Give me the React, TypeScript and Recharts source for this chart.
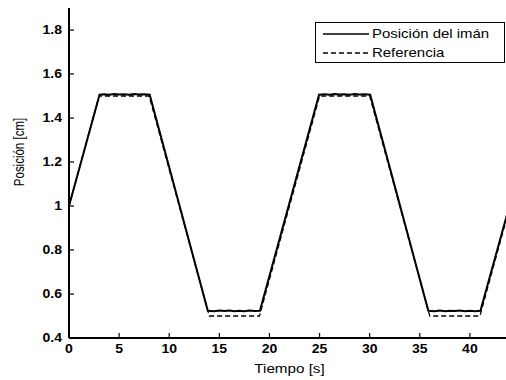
import React from 'react';
import { LineChart, Line, XAxis, YAxis, Legend, Label } from 'recharts';

// reference trajectory (breakpoints of the trapezoid)
const refTime = [0, 3, 8, 14, 19, 25, 30, 36, 41, 44];
const refValue = [1.0, 1.5, 1.5, 0.5, 0.5, 1.5, 1.5, 0.5, 0.5, 1.0];

const posTime = [
  0, 3.05, 3.5, 4, 4.5, 5, 5.5, 6, 6.5, 7, 7.5, 8.05,
  13.85, 14.5, 15, 15.5, 16, 16.5, 17, 17.5, 18, 18.5, 19.05,
  24.95, 25.5, 26, 26.5, 27, 27.5, 28, 28.5, 29, 29.5, 30.05,
  35.85, 36.5, 37, 37.5, 38, 38.5, 39, 39.5, 40, 40.5, 41.05,
  44,
];
const posValue = [
  1.0, 1.506, 1.508, 1.506, 1.509, 1.507, 1.508, 1.506, 1.509, 1.507, 1.508, 1.506,
  0.524, 0.522, 0.525, 0.523, 0.525, 0.522, 0.524, 0.522, 0.525, 0.523, 0.524,
  1.506, 1.508, 1.506, 1.509, 1.507, 1.508, 1.506, 1.509, 1.507, 1.508, 1.506,
  0.524, 0.522, 0.525, 0.522, 0.524, 0.523, 0.525, 0.522, 0.524, 0.522, 0.524,
  1.01,
];

const xTicks = [0, 5, 10, 15, 20, 25, 30, 35, 40];
const yTicks = [0.4, 0.6, 0.8, 1, 1.2, 1.4, 1.6, 1.8];

const seriesNames = ['Posición del imán', 'Referencia'];

const refData = refTime.map((t, i) => ({ t, v: refValue[i] }));
const posData = posTime.map((t, i) => ({ t, v: posValue[i] }));

const FONT = '"Liberation Sans", Arial, sans-serif';
const SX = 1.17; // the original export is a little stretched horizontally
const axisLine = { stroke: '#000', strokeWidth: 2 };
const tickLine = { stroke: '#000', strokeWidth: 1.2 };

function XTick({ x, y, payload }: any) {
  return (
    <g transform={`translate(${x},${y})`}>
      <text transform={`scale(${SX},1)`} textAnchor="middle" dy="0.72em" fill="#000" fontSize={12} fontWeight={700} fontFamily={FONT}>
        {String(payload.value)}
      </text>
    </g>
  );
}

function YTick({ x, y, payload }: any) {
  return (
    <g transform={`translate(${x},${y})`}>
      <text transform={`scale(${SX},1)`} textAnchor="end" dy="0.36em" fill="#000" fontSize={12} fontWeight={700} fontFamily={FONT}>
        {String(payload.value)}
      </text>
    </g>
  );
}

const NoTick = () => <g />;

function XTitle({ viewBox }: any) {
  const cx = viewBox.x + viewBox.width / 2;
  return (
    <g transform={`translate(${cx},373)`}>
      <text transform={`scale(${SX},1)`} textAnchor="middle" fill="#000" fontSize={13} fontFamily={FONT}>
        Tiempo [s]
      </text>
    </g>
  );
}

function YTitle() {
  return (
    <g transform="translate(24,152) scale(1.35,1) rotate(-90)">
      <text textAnchor="middle" fill="#000" fontSize={11.5} fontFamily={FONT}>
        Posición [cm]
      </text>
    </g>
  );
}

function LegendBox() {
  return (
    <div
      style={{
        width: 190,
        height: 41,
        border: '1.5px solid #000',
        background: '#fff',
        boxSizing: 'border-box',
        fontFamily: FONT,
        fontSize: 13,
        color: '#000',
        padding: '1px 0 0 7px',
      }}
    >
      {seriesNames.map((name, i) => (
        <div key={name} style={{ display: 'flex', alignItems: 'center', height: 19 }}>
          <svg width={47} height={6} style={{ marginRight: 2, flex: 'none' }}>
            <line
              x1={0}
              y1={3}
              x2={46}
              y2={3}
              stroke="#000"
              strokeWidth={1.3}
              strokeDasharray={i === 1 ? '5 3' : undefined}
            />
          </svg>
          <span style={{ display: 'inline-block', transform: 'scaleX(1.15)', transformOrigin: 'left center', whiteSpace: 'nowrap' }}>
            {name}
          </span>
        </div>
      ))}
    </div>
  );
}

export default function App() {
  return (
    <div
      style={{
        position: 'fixed',
        left: 0,
        top: 0,
        width: 506,
        height: 380,
        overflow: 'hidden',
        background: '#fff',
      }}
    >
      <LineChart width={514} height={380} margin={{ top: 8, right: 4, left: 0, bottom: 0 }}>
        <XAxis
          xAxisId="b"
          type="number"
          dataKey="t"
          domain={[0, 44]}
          ticks={xTicks}
          allowDataOverflow
          height={42}
          tick={<XTick />}
          tickSize={-5}
          tickMargin={11}
          axisLine={axisLine}
          tickLine={tickLine}
        >
          <Label content={<XTitle />} />
        </XAxis>
        <XAxis
          xAxisId="t"
          orientation="top"
          type="number"
          dataKey="t"
          domain={[0, 44]}
          ticks={xTicks}
          allowDataOverflow
          height={0}
          tick={<NoTick />}
          tickSize={-5}
          axisLine={axisLine}
          tickLine={tickLine}
        />
        <YAxis
          yAxisId="l"
          type="number"
          domain={[0.4, 1.9]}
          ticks={yTicks}
          allowDataOverflow
          width={69}
          tick={<YTick />}
          tickSize={-5}
          tickMargin={12}
          axisLine={axisLine}
          tickLine={tickLine}
        >
          <Label content={<YTitle />} />
        </YAxis>
        <YAxis
          yAxisId="r"
          orientation="right"
          type="number"
          domain={[0.4, 1.9]}
          ticks={yTicks}
          allowDataOverflow
          width={0}
          tick={<NoTick />}
          tickSize={-5}
          axisLine={axisLine}
          tickLine={tickLine}
        />
        <Legend
          layout="horizontal"
          verticalAlign="middle"
          align="center"
          wrapperStyle={{ left: 315, top: 22, width: 190 }}
          content={() => <LegendBox />}
        />
        <Line
          xAxisId="b"
          yAxisId="l"
          data={refData}
          dataKey="v"
          type="linear"
          stroke="#000"
          strokeWidth={1.3}
          strokeDasharray="5 3"
          dot={false}
          isAnimationActive={false}
        />
        <Line
          xAxisId="b"
          yAxisId="l"
          data={posData}
          dataKey="v"
          type="linear"
          stroke="#000"
          strokeWidth={2}
          dot={false}
          isAnimationActive={false}
        />
      </LineChart>
    </div>
  );
}
